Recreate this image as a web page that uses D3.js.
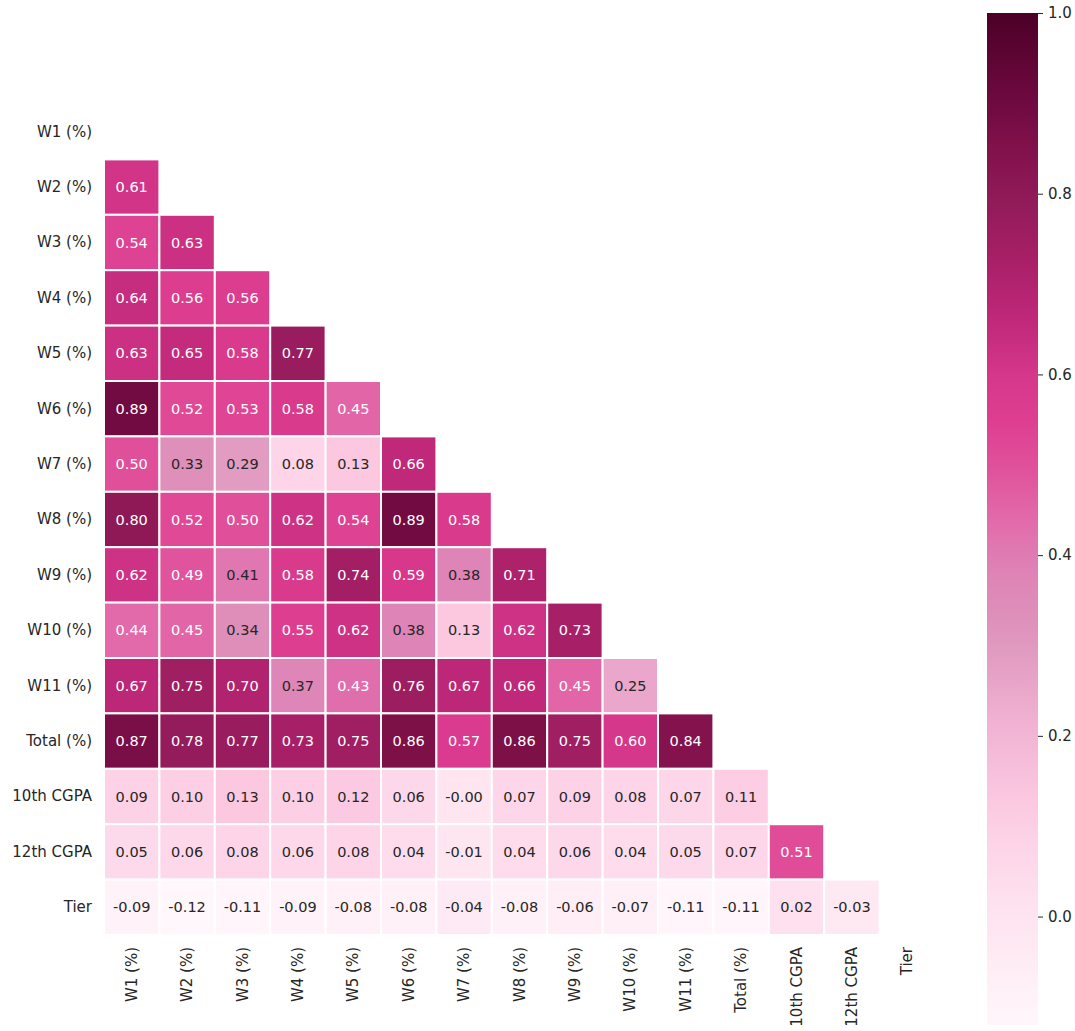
<!DOCTYPE html>
<html>
<head>
<meta charset="utf-8">
<script src="https://cdn.jsdelivr.net/npm/d3@7"></script>
<style>
  html, body { margin: 0; padding: 0; background: #ffffff; }
  svg { display: block; font-family: "DejaVu Sans", sans-serif; }
</style>
</head>
<body>
<svg id="chart" width="1075" height="1031"></svg>
<script>
// Variables in matrix order (rows top to bottom, columns left to right)
const variables = ["W1 (%)", "W2 (%)", "W3 (%)", "W4 (%)", "W5 (%)", "W6 (%)",
  "W7 (%)", "W8 (%)", "W9 (%)", "W10 (%)", "W11 (%)", "Total (%)",
  "10th CGPA", "12th CGPA", "Tier"];

// Lower-triangle correlation coefficients, one array per row
const rowW1 = [];
const rowW2 = [0.61];
const rowW3 = [0.54, 0.63];
const rowW4 = [0.64, 0.56, 0.56];
const rowW5 = [0.63, 0.65, 0.58, 0.77];
const rowW6 = [0.89, 0.52, 0.53, 0.58, 0.45];
const rowW7 = [0.50, 0.33, 0.29, 0.08, 0.13, 0.66];
const rowW8 = [0.80, 0.52, 0.50, 0.62, 0.54, 0.89, 0.58];
const rowW9 = [0.62, 0.49, 0.41, 0.58, 0.74, 0.59, 0.38, 0.71];
const rowW10 = [0.44, 0.45, 0.34, 0.55, 0.62, 0.38, 0.13, 0.62, 0.73];
const rowW11 = [0.67, 0.75, 0.70, 0.37, 0.43, 0.76, 0.67, 0.66, 0.45, 0.25];
const rowTotal = [0.87, 0.78, 0.77, 0.73, 0.75, 0.86, 0.57, 0.86, 0.75, 0.60, 0.84];
const row10th = [0.09, 0.10, 0.13, 0.10, 0.12, 0.06, -0.004, 0.07, 0.09, 0.08, 0.07, 0.11];
const row12th = [0.05, 0.06, 0.08, 0.06, 0.08, 0.04, -0.01, 0.04, 0.06, 0.04, 0.05, 0.07, 0.51];
const rowTier = [-0.09, -0.12, -0.11, -0.09, -0.08, -0.08, -0.04, -0.08, -0.06, -0.07, -0.11, -0.11, 0.02, -0.03];

const matrixRows = [rowW1, rowW2, rowW3, rowW4, rowW5, rowW6, rowW7, rowW8,
  rowW9, rowW10, rowW11, rowTotal, row10th, row12th, rowTier];

// Colour bar range and tick values
const colorMin = -0.12;
const colorMax = 1.0;
const colorbarTicks = [0.0, 0.2, 0.4, 0.6, 0.8, 1.0];

// Sequential pink-to-maroon palette
const paletteStops = [-0.12, 0.0, 0.08, 0.13, 0.22, 0.29, 0.33, 0.38, 0.44, 0.50, 0.55, 0.60, 0.66, 0.73, 0.78, 0.86, 0.89, 1.0];
const paletteColors = ["#fff7fb", "#fee4f0", "#fdd4e8", "#fbc8e0", "#f0b0d2", "#e29cc1",
  "#de90ba", "#de84b6", "#e26aaa", "#e0509a", "#de3e90", "#d5378a", "#c0287a",
  "#a71f66", "#951c5c", "#7e1048", "#730b43", "#4c0027"];

const color = d3.scaleLinear()
  .domain(paletteStops)
  .range(paletteColors)
  .interpolate(d3.interpolateRgb)
  .clamp(true);

const textDark = "#262626";

const svg = d3.select("#chart");

// Heatmap geometry
const gridLeft = 104, gridTop = 104, gridSize = 831;

const x = d3.scaleBand().domain(variables).range([gridLeft, gridLeft + gridSize]);
const y = d3.scaleBand().domain(variables).range([gridTop, gridTop + gridSize]);

const cells = [];
matrixRows.forEach((row, i) => {
  row.forEach((v, j) => {
    cells.push({ row: variables[i], col: variables[j], value: v });
  });
});

const fmt = v => (v < 0 ? "-" : "") + Math.abs(v).toFixed(2);

const cellG = svg.append("g");
cellG.selectAll("rect")
  .data(cells)
  .join("rect")
  .attr("x", d => x(d.col))
  .attr("y", d => y(d.row))
  .attr("width", x.bandwidth())
  .attr("height", y.bandwidth())
  .attr("fill", d => color(d.value))
  .attr("stroke", "#ffffff")
  .attr("stroke-width", 2);

cellG.selectAll("text")
  .data(cells)
  .join("text")
  .attr("x", d => x(d.col) + x.bandwidth() / 2)
  .attr("y", d => y(d.row) + y.bandwidth() / 2)
  .attr("text-anchor", "middle")
  .attr("dominant-baseline", "central")
  .attr("font-size", 14.5)
  .attr("fill", d => d.value <= 0.41 ? textDark : "#ffffff")
  .text(d => fmt(d.value));

// Row labels
const yAxis = svg.append("g")
  .attr("transform", `translate(${gridLeft},0)`)
  .call(d3.axisLeft(y).tickSize(0).tickPadding(12));
yAxis.select(".domain").remove();
yAxis.selectAll("text")
  .attr("font-size", 15)
  .attr("font-family", "DejaVu Sans")
  .attr("fill", textDark);

// Column labels, rotated
const xAxis = svg.append("g")
  .attr("transform", `translate(0,${gridTop + gridSize})`)
  .call(d3.axisBottom(x).tickSize(0).tickPadding(0));
xAxis.select(".domain").remove();
xAxis.selectAll("text")
  .attr("font-size", 15)
  .attr("font-family", "DejaVu Sans")
  .attr("fill", textDark)
  .attr("text-anchor", "end")
  .attr("dy", null)
  .attr("dominant-baseline", "central")
  .attr("transform", "translate(0,12) rotate(-90)")
  .attr("x", 0)
  .attr("y", 0);

// Colour bar
const cbLeft = 987, cbWidth = 51, cbTop = 13, cbBottom = 1025;
const cbY = d3.scaleLinear().domain([colorMin, colorMax]).range([cbBottom, cbTop]);

const defs = svg.append("defs");
const grad = defs.append("linearGradient")
  .attr("id", "cbGrad")
  .attr("x1", 0).attr("y1", 1).attr("x2", 0).attr("y2", 0);
grad.selectAll("stop")
  .data(paletteStops.map((v, i) => ({ v, c: paletteColors[i] })))
  .join("stop")
  .attr("offset", d => (d.v - colorMin) / (colorMax - colorMin))
  .attr("stop-color", d => d.c);

svg.append("rect")
  .attr("x", cbLeft)
  .attr("y", cbTop)
  .attr("width", cbWidth)
  .attr("height", cbBottom - cbTop)
  .attr("fill", "url(#cbGrad)");

const cbAxis = svg.append("g")
  .attr("transform", `translate(${cbLeft + cbWidth},0)`)
  .call(d3.axisRight(cbY).tickValues(colorbarTicks).tickFormat(d3.format(".1f")).tickSize(5).tickPadding(5));
cbAxis.select(".domain").remove();
cbAxis.selectAll("line").attr("stroke", textDark);
cbAxis.selectAll("text")
  .attr("font-size", 15)
  .attr("font-family", "DejaVu Sans")
  .attr("fill", textDark);
</script>
</body>
</html>
